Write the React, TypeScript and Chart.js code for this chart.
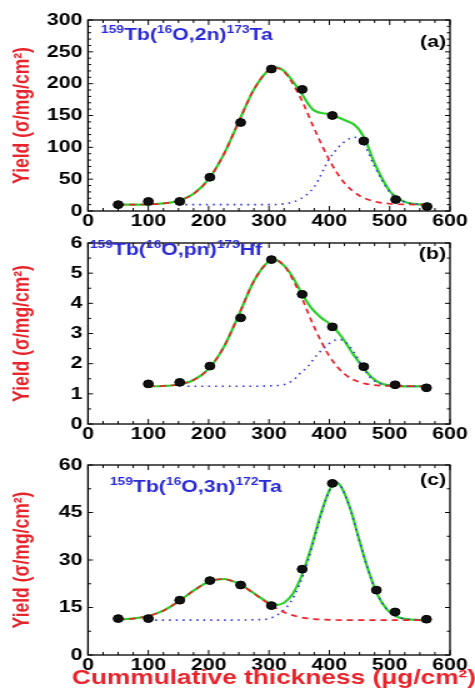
import React, { useEffect, useRef } from 'react';
import { Chart, registerables } from 'chart.js';

Chart.register(...registerables);

const FONT = "'Liberation Sans', Arial, Helvetica, sans-serif";
const RED = '#e8232b';
const GREEN = '#2ccf2c';
const BLUE = '#3434d2';
const LABEL_BLUE = '#2a2ad6';
const SX = 1.25;
const CW = 380;

// ---------- Panel (a) 159Tb(16O,2n)173Ta ----------
const ptsAx = [50, 100, 152, 202, 253, 304, 355, 405, 457, 510, 562];
const ptsAy = [10, 15, 15, 53, 139, 223, 191, 150, 110, 18, 7];
const redAx = [50, 75, 100, 125, 150, 175, 200, 225, 250, 275, 300, 310, 325, 350, 375, 400, 425, 450, 475, 500, 525, 565];
const redAy = [10, 10.1, 10.5, 11.9, 16.1, 27.1, 50, 89, 140.5, 191, 222, 225, 218.6, 182, 129.5, 80, 44, 24, 15, 11.4, 10.3, 10];
const blueAx = [150, 200, 250, 300, 325, 350, 375, 400, 415, 430, 440, 450, 460, 475, 500, 525, 550, 565];
const blueAy = [10, 10, 10, 10, 11.3, 18, 38, 82, 100, 112, 116, 113, 101, 70, 30, 14, 10.5, 10];
const greenAx = [50, 75, 100, 125, 150, 175, 200, 225, 250, 275, 300, 310, 325, 350, 375, 400, 415, 430, 440, 450, 460, 475, 500, 525, 550, 565];
const greenAy = [10, 10.1, 10.5, 11.9, 16.1, 27.1, 50, 89, 140.5, 191, 222, 225.5, 220, 190, 157.5, 152, 147, 141, 136.5, 127, 110.4, 75, 31.4, 14.3, 10.5, 10];
const labelA = ['159', 'Tb(', '16', 'O,2n)', '173', 'Ta'];

// ---------- Panel (b) 159Tb(16O,pn)173Hf ----------
const ptsBx = [100, 152, 202, 253, 304, 355, 405, 457, 509, 561];
const ptsBy = [1.33, 1.38, 1.92, 3.52, 5.45, 4.3, 3.22, 1.9, 1.3, 1.2];
const redBx = [100, 125, 150, 175, 200, 225, 250, 275, 300, 308, 325, 350, 375, 400, 425, 450, 475, 500, 565];
const redBy = [1.25, 1.26, 1.31, 1.46, 1.83, 2.55, 3.62, 4.74, 5.4, 5.45, 5.25, 4.37, 3.21, 2.25, 1.66, 1.39, 1.29, 1.26, 1.25];
const blueBx = [165, 250, 318, 340, 350, 365, 380, 395, 405, 415, 425, 440, 455, 470, 485, 500, 520, 565];
const blueBy = [1.25, 1.25, 1.28, 1.45, 1.65, 1.92, 2.3, 2.58, 2.74, 2.8, 2.75, 2.4, 1.9, 1.5, 1.33, 1.27, 1.25, 1.25];
const greenBx = [100, 125, 150, 175, 200, 225, 250, 275, 300, 308, 325, 340, 355, 370, 385, 405, 420, 440, 455, 470, 485, 500, 525, 565];
const greenBy = [1.25, 1.26, 1.31, 1.46, 1.83, 2.55, 3.62, 4.74, 5.4, 5.45, 5.25, 4.85, 4.3, 3.85, 3.55, 3.25, 2.9, 2.3, 1.9, 1.55, 1.35, 1.28, 1.25, 1.25];
const labelB = ['159', 'Tb(', '16', 'O,pn)', '173', 'Hf'];

// ---------- Panel (c) 159Tb(16O,3n)172Ta ----------
const ptsCx = [50, 100, 152, 202, 253, 304, 355, 405, 478, 509, 561];
const ptsCy = [11.5, 11.5, 17.3, 23.5, 22.1, 15.6, 27.1, 54.2, 20.5, 13.6, 11.3];
const redCx = [50, 75, 100, 125, 150, 175, 200, 222, 250, 275, 300, 325, 350, 375, 400, 450, 565];
const redCy = [11.1, 11.5, 12.3, 14, 16.9, 20.3, 23.1, 24, 22.5, 19.4, 16.1, 13.5, 12, 11.35, 11.1, 11, 11];
const blueCx = [100, 200, 290, 305, 320, 335, 350, 365, 380, 395, 410, 420, 435, 450, 465, 480, 495, 510, 525, 545, 565];
const blueCy = [11, 11, 11.2, 11.8, 13.5, 16.5, 22, 30, 40, 49.5, 54.5, 53, 46, 36, 26.5, 19, 14.5, 12.3, 11.4, 11.1, 11];
const greenCx = [50, 75, 100, 125, 150, 175, 200, 225, 250, 275, 300, 312, 325, 340, 355, 370, 385, 400, 410, 420, 435, 450, 465, 480, 495, 510, 525, 545, 565];
const greenCy = [11.2, 11.5, 12.3, 14, 16.9, 20.3, 23.1, 24, 22.5, 19.5, 16.4, 15.8, 16.5, 19.5, 25.5, 34, 44, 52, 54.5, 53, 46, 36, 26.5, 19, 14.5, 12.3, 11.4, 11.1, 11];
const labelC = ['159', 'Tb(', '16', 'O,3n)', '172', 'Ta'];

const xTickStep = 100;
const yTitle = 'Yield (σ/mg/cm²)';
const xTitle = 'Cummulative thickness (μg/cm²)';

const zip = (xs: number[], ys: number[]) => xs.map((x, i) => ({ x, y: ys[i] }));

const framePlugin = {
  id: 'frame',
  afterDraw(chart: any, _args: any, o: any) {
    const { ctx, chartArea, scales } = chart;
    const { left, right, top, bottom } = chartArea;
    const x = scales.x;
    const y = scales.y;
    ctx.save();
    ctx.strokeStyle = '#000';
    ctx.lineWidth = 1.3;
    ctx.strokeRect(left, top, right - left, bottom - top);
    ctx.lineWidth = 1;
    const isMajor = (v: number, step: number) => Math.abs(v / step - Math.round(v / step)) < 1e-6;
    ctx.beginPath();
    for (let i = 0; ; i++) {
      const v = x.min + i * o.xMinor;
      if (v > x.max + 1e-9) break;
      const px = x.getPixelForValue(v);
      const L = isMajor(v, o.xMajor) ? 5 : 3;
      ctx.moveTo(px, bottom); ctx.lineTo(px, bottom - L);
      ctx.moveTo(px, top); ctx.lineTo(px, top + L);
    }
    for (let i = 0; ; i++) {
      const v = y.min + i * o.yMinor;
      if (v > y.max + 1e-9) break;
      const py = y.getPixelForValue(v);
      const L = isMajor(v, o.yMajor) ? 4 : 2.5;
      ctx.moveTo(left, py); ctx.lineTo(left + L, py);
      ctx.moveTo(right, py); ctx.lineTo(right - L, py);
    }
    ctx.stroke();

    // reaction label with superscripts
    let cx = o.labelX;
    ctx.fillStyle = LABEL_BLUE;
    ctx.textAlign = 'left';
    ctx.textBaseline = 'alphabetic';
    o.label.forEach((seg: string, i: number) => {
      const sup = i % 2 === 0;
      ctx.font = `bold ${sup ? 11 : 17}px ${FONT}`;
      ctx.fillText(seg, cx, o.labelY - (sup ? 7 : 0));
      cx += ctx.measureText(seg).width;
    });

    // panel tag
    ctx.fillStyle = '#000';
    ctx.font = `bold 17px ${FONT}`;
    ctx.textAlign = 'right';
    ctx.fillText(o.tag, o.tagX, o.tagY);

    // x-axis title (drawn without width limit)
    if (o.xTitle) {
      ctx.fillStyle = RED;
      ctx.font = `bold 21px ${FONT}`;
      ctx.textAlign = 'center';
      ctx.fillText(o.xTitle, o.xTitleX, o.xTitleY);
    }
    ctx.restore();
  },
};

type Panel = {
  height: number;
  top: number;
  plotBottom: number;
  ymax: number;
  ystep: number;
  yminor: number;
  pts: { x: number; y: number }[];
  red: { x: number; y: number }[];
  blue: { x: number; y: number }[];
  green: { x: number; y: number }[];
  label: string[];
  labelX: number;
  labelY: number;
  tag: string;
  tagY: number;
  showXTitle: boolean;
};

const panels: Panel[] = [
  {
    height: 230, top: 20, plotBottom: 211, ymax: 300, ystep: 50, yminor: 10,
    pts: zip(ptsAx, ptsAy), red: zip(redAx, redAy), blue: zip(blueAx, blueAy), green: zip(greenAx, greenAy),
    label: labelA, labelX: 101 / SX, labelY: 40, tag: '(a)', tagY: 47, showXTitle: false,
  },
  {
    height: 217, top: 9, plotBottom: 194, ymax: 6, ystep: 1, yminor: 0.5,
    pts: zip(ptsBx, ptsBy), red: zip(redBx, redBy), blue: zip(blueBx, blueBy), green: zip(greenBx, greenBy),
    label: labelB, labelX: 90 / SX, labelY: 24.5, tag: '(b)', tagY: 29, showXTitle: false,
  },
  {
    height: 251, top: 18, plotBottom: 208, ymax: 60, ystep: 15, yminor: 7.5,
    pts: zip(ptsCx, ptsCy), red: zip(redCx, redCy), blue: zip(blueCx, blueCy), green: zip(greenCx, greenCy),
    label: labelC, labelX: 110 / SX, labelY: 45, tag: '(c)', tagY: 38, showXTitle: true,
  },
];

function PanelChart({ p }: { p: Panel }) {
  const ref = useRef<HTMLCanvasElement | null>(null);
  useEffect(() => {
    if (!ref.current) return;
    const tickFont = { family: FONT, size: 17, weight: 'bold' as const, lineHeight: 1 };
    const chart = new Chart(ref.current, {
      type: 'line',
      data: {
        datasets: [
          {
            label: 'data', data: p.pts, showLine: false, pointRadius: 3.9,
            pointBackgroundColor: '#111', pointBorderColor: '#000', pointBorderWidth: 1, order: 0,
          },
          {
            label: 'fit1', data: p.red, borderColor: RED, borderWidth: 1.7, borderDash: [5, 4],
            pointRadius: 0, cubicInterpolationMode: 'monotone', fill: false, order: 1,
          },
          {
            label: 'fit2', data: p.blue, borderColor: BLUE, borderWidth: 1.6, borderDash: [1.5, 4],
            pointRadius: 0, cubicInterpolationMode: 'monotone', fill: false, order: 2,
          },
          {
            label: 'sum', data: p.green, borderColor: GREEN, borderWidth: 2.2,
            pointRadius: 0, cubicInterpolationMode: 'monotone', fill: false, order: 3,
          },
        ],
      } as any,
      options: {
        responsive: false,
        animation: false,
        devicePixelRatio: 1,
        layout: { padding: { top: p.top, right: CW - 450 / SX, left: 0, bottom: 0 } },
        plugins: {
          legend: { display: false },
          tooltip: { enabled: false },
          frame: {
            xMajor: 100, xMinor: 25, yMajor: p.ystep, yMinor: p.yminor,
            label: p.label, labelX: p.labelX, labelY: p.labelY,
            tag: p.tag, tagX: 446 / SX, tagY: p.tagY,
            xTitle: p.showXTitle ? xTitle : '', xTitleX: 274 / SX, xTitleY: 684 - 447,
          },
        } as any,
        scales: {
          x: {
            type: 'linear', min: 0, max: 600,
            grid: { display: false, drawTicks: false },
            border: { display: false },
            ticks: { stepSize: xTickStep, padding: 2, color: '#000', font: tickFont, maxRotation: 0 },
            title: { display: false },
            afterFit: (s: any) => { s.height = p.height - p.plotBottom; },
          },
          y: {
            type: 'linear', min: 0, max: p.ymax,
            grid: { display: false, drawTicks: false },
            border: { display: false },
            ticks: { stepSize: p.ystep, padding: 4.5, color: '#000', font: tickFont },
            title: {
              display: true, text: yTitle, color: RED,
              font: { family: FONT, size: 17.5, weight: 'bold', lineHeight: 1.2 },
              padding: { top: 8, bottom: 0 },
            },
            afterFit: (s: any) => { s.width = 88 / SX; },
          },
        } as any,
      },
      plugins: [framePlugin as any],
    });
    return () => chart.destroy();
  }, [p]);
  return (
    <canvas
      ref={ref}
      width={CW}
      height={p.height}
      style={{ display: 'block', width: '475px', height: `${p.height}px` }}
    />
  );
}

export default function App() {
  useEffect(() => {
    document.body.style.margin = '0';
  }, []);
  return (
    <div style={{ position: 'absolute', left: 0, top: 0, width: 475, height: 698, background: '#fff' }}>
      {panels.map((p, i) => (
        <PanelChart key={i} p={p} />
      ))}
    </div>
  );
}
